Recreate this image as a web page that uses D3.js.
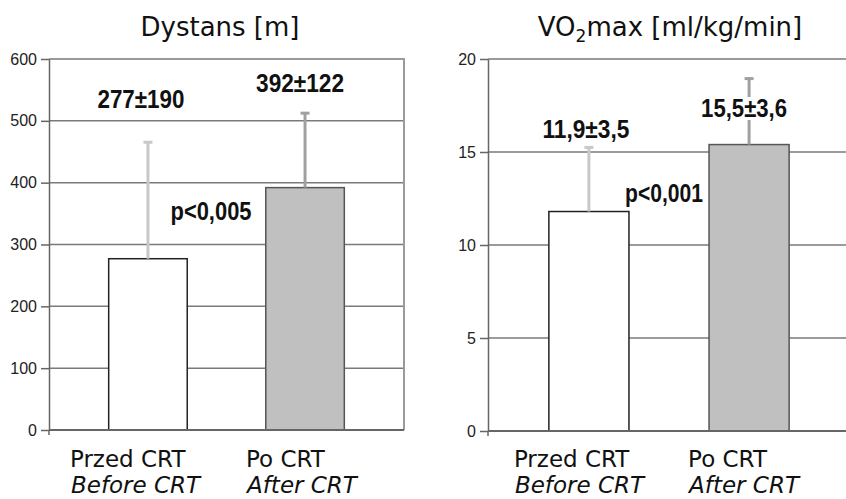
<!DOCTYPE html>
<html>
<head>
<meta charset="utf-8">
<script src="https://cdn.jsdelivr.net/npm/d3@7"></script>
<style>
  html, body { margin: 0; padding: 0; background: #fff; }
  svg { display: block; }
</style>
</head>
<body>
<svg id="chart" width="846" height="499"></svg>
<script>
// ---------- data ----------
const categoriesPl = ["Przed CRT", "Po CRT"];
const categoriesEn = ["Before CRT", "After CRT"];

const distMeans = [277, 392];
const distSD = [190, 122];
const distLabels = ["277±190", "392±122"];
const distP = "p<0,005";
const distTicks = [0, 100, 200, 300, 400, 500, 600];

const vo2Means = [11.8, 15.4];
const vo2SD = [3.5, 3.6];
const vo2Labels = ["11,9±3,5", "15,5±3,6"];
const vo2P = "p<0,001";
const vo2Ticks = [0, 5, 10, 15, 20];

// ---------- layout / style ----------
const svg = d3.select("#chart");
const barFill = ["#ffffff", "#c0c0c0"];
const barStroke = ["#222222", "#555555"];
const errColor = ["#c8c8c8", "#a0a0a0"];
const narrowBold = "'Liberation Sans Narrow','Arial Narrow','Liberation Sans',Arial,sans-serif";
const sans = "'DejaVu Sans',Verdana,sans-serif";

const panels = [
  {
    title: [{t: "Dystans [m]"}],
    titleX: 220,
    means: distMeans, sd: distSD, labels: distLabels, p: distP, ticks: distTicks,
    xRange: [49, 404], yRange: [430, 59],
    labelPos: [{dx: -7, y: 108, w: 87}, {dx: -5, y: 92, w: 88}],
    pPos: {x: 211, y: 220, w: 81},
    catDx: [-78, -59]
  },
  {
    title: [{t: "VO"}, {t: "2", sub: true}, {t: "max [ml/kg/min]"}],
    titleX: 670,
    means: vo2Means, sd: vo2SD, labels: vo2Labels, p: vo2P, ticks: vo2Ticks,
    xRange: [488, 850], yRange: [431, 59],
    labelPos: [{dx: -3, y: 138, w: 87}, {dx: -5, y: 117, w: 86}],
    pPos: {x: 664, y: 202, w: 78},
    catDx: [-75, -61]
  }
];

panels.forEach(P => {
  const g = svg.append("g");
  const x = d3.scaleBand().domain(categoriesPl).range(P.xRange)
    .paddingInner(0.5).paddingOuter(0.38);
  const yMax = P.ticks[P.ticks.length - 1];
  const y = d3.scaleLinear().domain([0, yMax]).range(P.yRange);
  const [x0, x1] = P.xRange;

  // gridlines
  g.selectAll("line.grid").data(P.ticks.filter(t => t > 0 && t < yMax)).join("line")
    .attr("x1", x0).attr("x2", x1)
    .attr("y1", d => y(d)).attr("y2", d => y(d))
    .attr("stroke", "#7a7a7a").attr("stroke-width", 1.5);

  // plot border (top + right)
  g.append("path")
    .attr("d", `M${x0},${y(yMax)}H${x1}V${y(0)}`)
    .attr("fill", "none").attr("stroke", "#9a9a9a").attr("stroke-width", 2);

  // bars
  g.selectAll("rect.bar").data(P.means).join("rect")
    .attr("x", (d, i) => x(categoriesPl[i]))
    .attr("width", x.bandwidth())
    .attr("y", d => y(d))
    .attr("height", d => y(0) - y(d))
    .attr("fill", (d, i) => barFill[i])
    .attr("stroke", (d, i) => barStroke[i])
    .attr("stroke-width", 1.5);

  // error bars
  const cx = i => x(categoriesPl[i]) + x.bandwidth() / 2;
  P.means.forEach((m, i) => {
    g.append("line")
      .attr("x1", cx(i)).attr("x2", cx(i))
      .attr("y1", y(m)).attr("y2", y(m + P.sd[i]))
      .attr("stroke", errColor[i]).attr("stroke-width", 3);
    g.append("line")
      .attr("x1", cx(i) - 4.5).attr("x2", cx(i) + 4.5)
      .attr("y1", y(m + P.sd[i]) + 1).attr("y2", y(m + P.sd[i]) + 1)
      .attr("stroke", errColor[i]).attr("stroke-width", 3);
  });

  // value labels with white backgrounds
  P.labels.forEach((lab, i) => {
    const lp = P.labelPos[i];
    const lx = cx(i) + lp.dx;
    g.append("rect")
      .attr("x", lx - lp.w / 2 - 2).attr("y", lp.y - 20)
      .attr("width", lp.w + 4).attr("height", 23)
      .attr("fill", "#fff");
    g.append("text")
      .attr("x", lx).attr("y", lp.y)
      .attr("text-anchor", "middle")
      .attr("font-family", narrowBold).attr("font-weight", "bold")
      .attr("font-size", 25).attr("fill", "#111")
      .attr("textLength", lp.w).attr("lengthAdjust", "spacingAndGlyphs")
      .text(lab);
  });

  // p-value
  g.append("text")
    .attr("x", P.pPos.x).attr("y", P.pPos.y)
    .attr("text-anchor", "middle")
    .attr("font-family", narrowBold).attr("font-weight", "bold")
    .attr("font-size", 25).attr("fill", "#111")
    .attr("textLength", P.pPos.w).attr("lengthAdjust", "spacingAndGlyphs")
    .text(P.p);

  // y axis
  const ax = g.append("g").attr("transform", `translate(${x0},0)`)
    .call(d3.axisLeft(y).tickValues(P.ticks).tickSize(8).tickPadding(4).tickSizeOuter(0));
  ax.select(".domain").attr("stroke", "#666").attr("stroke-width", 1.5);
  ax.selectAll(".tick line").attr("stroke", "#666").attr("stroke-width", 1.5);
  ax.selectAll(".tick text")
    .attr("font-family", "'Liberation Sans',Arial,sans-serif")
    .attr("font-size", 16).attr("fill", "#222");

  // x baseline
  g.append("line")
    .attr("x1", x0).attr("x2", x1).attr("y1", y(0)).attr("y2", y(0))
    .attr("stroke", "#666").attr("stroke-width", 2);
  g.append("line")
    .attr("x1", x0).attr("x2", x0).attr("y1", y(0)).attr("y2", y(0) + 5)
    .attr("stroke", "#666").attr("stroke-width", 1.5);

  // category labels
  categoriesPl.forEach((c, i) => {
    const lx = cx(i) + P.catDx[i];
    g.append("text")
      .attr("x", lx).attr("y", 467)
      .attr("font-family", sans).attr("font-size", 23).attr("fill", "#111")
      .text(c);
    g.append("text")
      .attr("x", lx + 1).attr("y", 493)
      .attr("font-family", sans).attr("font-size", 23).attr("font-style", "italic")
      .attr("fill", "#111")
      .text(categoriesEn[i]);
  });

  // title
  const tt = g.append("text")
    .attr("x", P.titleX).attr("y", 36)
    .attr("text-anchor", "middle")
    .attr("font-family", sans).attr("font-size", 26).attr("fill", "#111");
  P.title.forEach((part, k) => {
    const ts = tt.append("tspan").text(part.t);
    if (part.sub) ts.attr("font-size", 17).attr("dy", 6);
    else if (k > 0 && P.title[k - 1].sub) ts.attr("dy", -6);
  });
});
</script>
</body>
</html>
